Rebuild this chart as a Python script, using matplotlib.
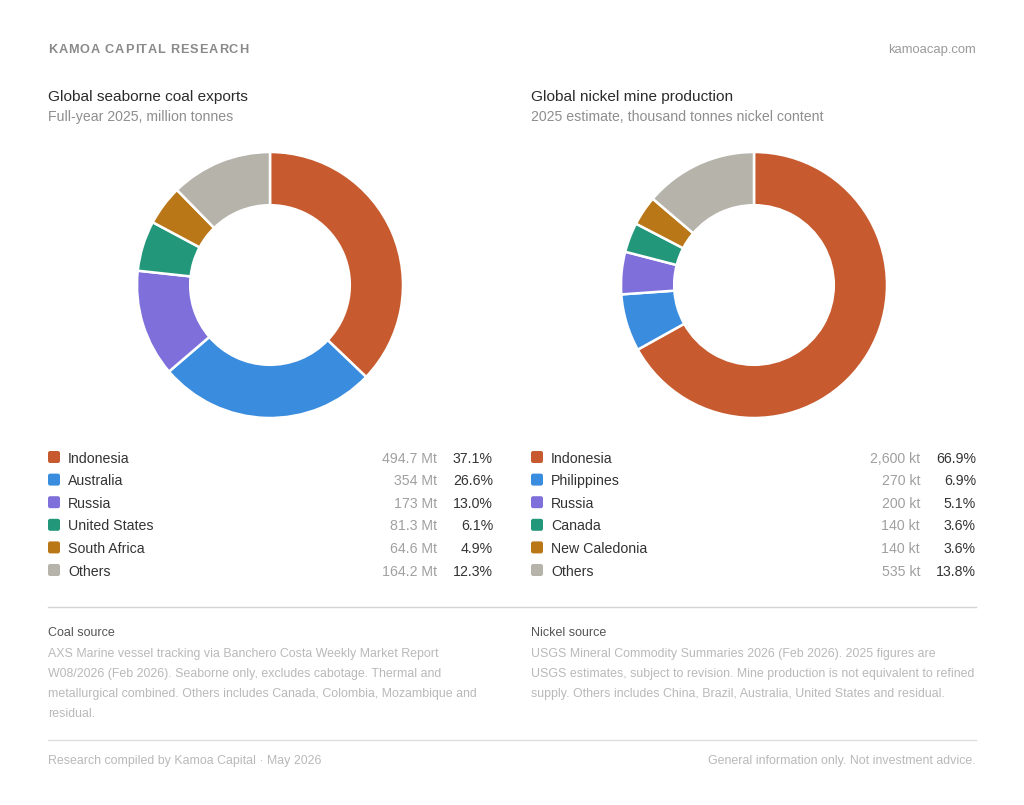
import matplotlib
matplotlib.use("Agg")
import matplotlib.pyplot as plt
from matplotlib.patches import FancyBboxPatch
from matplotlib.font_manager import FontProperties

plt.rcParams['font.family'] = ['Liberation Sans', 'DejaVu Sans']

# ---------------- data ----------------
coal_countries = ["Indonesia", "Australia", "Russia", "United States", "South Africa", "Others"]
coal_values = [494.7, 354, 173, 81.3, 64.6, 164.2]          # million tonnes
nickel_countries = ["Indonesia", "Philippines", "Russia", "Canada", "New Caledonia", "Others"]
nickel_values = [2600, 270, 200, 140, 140, 535]             # thousand tonnes
palette = ["#C75B2F", "#3A8CDE", "#7E6FDB", "#23977A", "#BA7718", "#B6B3AB"]

coal_title = "Global seaborne coal exports"
coal_sub = "Full-year 2025, million tonnes"
nickel_title = "Global nickel mine production"
nickel_sub = "2025 estimate, thousand tonnes nickel content"
coal_source = ["AXS Marine vessel tracking via Banchero Costa Weekly Market Report",
               "W08/2026 (Feb 2026). Seaborne only, excludes cabotage. Thermal and",
               "metallurgical combined. Others includes Canada, Colombia, Mozambique and",
               "residual."]
nickel_source = ["USGS Mineral Commodity Summaries 2026 (Feb 2026). 2025 figures are",
                 "USGS estimates, subject to revision. Mine production is not equivalent to refined",
                 "supply. Others includes China, Brazil, Australia, United States and residual."]

W, H = 1024, 805
fig = plt.figure(figsize=(W / 100, H / 100), dpi=100)
fig.patch.set_facecolor("white")
bg = fig.add_axes([0, 0, 1, 1])
bg.set_xlim(0, W)
bg.set_ylim(H, 0)
bg.axis("off")

DARK = "#2b2b2b"
GRAY = "#8e8e8e"
LIGHT = "#b9b9b9"
DY = 1.6  # visual-centre correction


def txt(x, y, s, **kw):
    return bg.text(x, y + DY, s, va="center", **kw)


# header with letter spacing (positions from cumulative prefix widths)
fig.canvas.draw()
renderer = fig.canvas.get_renderer()
hdr = "KAMOA CAPITAL RESEARCH"
prop = FontProperties(family=['Liberation Sans', 'DejaVu Sans'], weight="bold", size=9.2)
bar_w = renderer.get_text_width_height_descent("|", prop, ismath=False)[0]
for i, ch in enumerate(hdr):
    pw = renderer.get_text_width_height_descent(hdr[:i] + "|", prop, ismath=False)[0] - bar_w
    if ch != " ":
        txt(48 + pw + i * 0.95, 48, ch, fontproperties=prop, color="#8a8a8a", ha="left")
txt(976, 48, "kamoacap.com", fontsize=9.4, color="#9a9a9a", ha="right")


def panel(x0, x_end, title, sub, countries, values, unit, fmt, cx):
    txt(x0, 95, title, fontsize=11.1, color=DARK, ha="left")
    txt(x0, 115, sub, fontsize=10.2, color=GRAY, ha="left")
    R = 133
    cy = 285
    ax = fig.add_axes([(cx - R) / W, 1 - (cy + R) / H, 2 * R / W, 2 * R / H])
    ax.pie(values, colors=palette, startangle=90, counterclock=False, radius=1,
           wedgeprops=dict(width=0.4, edgecolor="white", linewidth=1.8))
    ax.set_xlim(-1.0, 1.0)
    ax.set_ylim(-1.0, 1.0)
    ax.axis("off")
    total = sum(values)
    for i, (c, v) in enumerate(zip(countries, values)):
        y = 457 + i * 22.6
        bg.add_patch(FancyBboxPatch((x0, y - 6), 12, 12,
                                    boxstyle="round,pad=0,rounding_size=2.2",
                                    facecolor=palette[i], edgecolor="none"))
        txt(x0 + 20, y, c, fontsize=10.2, color="#333333", ha="left")
        txt(x_end - 56, y, fmt(v) + " " + unit, fontsize=10.2, color="#a0a0a0", ha="right")
        txt(x_end, y, f"{100 * v / total:.1f}%", fontsize=10.2, color="#333333", ha="right")


panel(48, 493, coal_title, coal_sub, coal_countries, coal_values, "Mt",
      lambda v: f"{v:g}", 270)
panel(531, 976, nickel_title, nickel_sub, nickel_countries, nickel_values, "kt",
      lambda v: f"{v:,}", 754)

# separators
bg.plot([48, 976], [607, 607], color="#d4d4d4", lw=1.0)
bg.plot([48, 976], [740, 740], color="#dedede", lw=1.0)

# sources
for x0, head, lines in [(48, "Coal source", coal_source), (531, "Nickel source", nickel_source)]:
    txt(x0, 631.5, head, fontsize=9.0, color="#555555", ha="left")
    for j, ln in enumerate(lines):
        txt(x0, 652 + j * 20, ln, fontsize=8.95, color=LIGHT, ha="left")

txt(48, 759, "Research compiled by Kamoa Capital \u00b7 May 2026", fontsize=8.9,
    color=LIGHT, ha="left")
txt(976, 759, "General information only. Not investment advice.", fontsize=8.9,
    color=LIGHT, ha="right")

fig.savefig("out.png", dpi=100, facecolor="white")
